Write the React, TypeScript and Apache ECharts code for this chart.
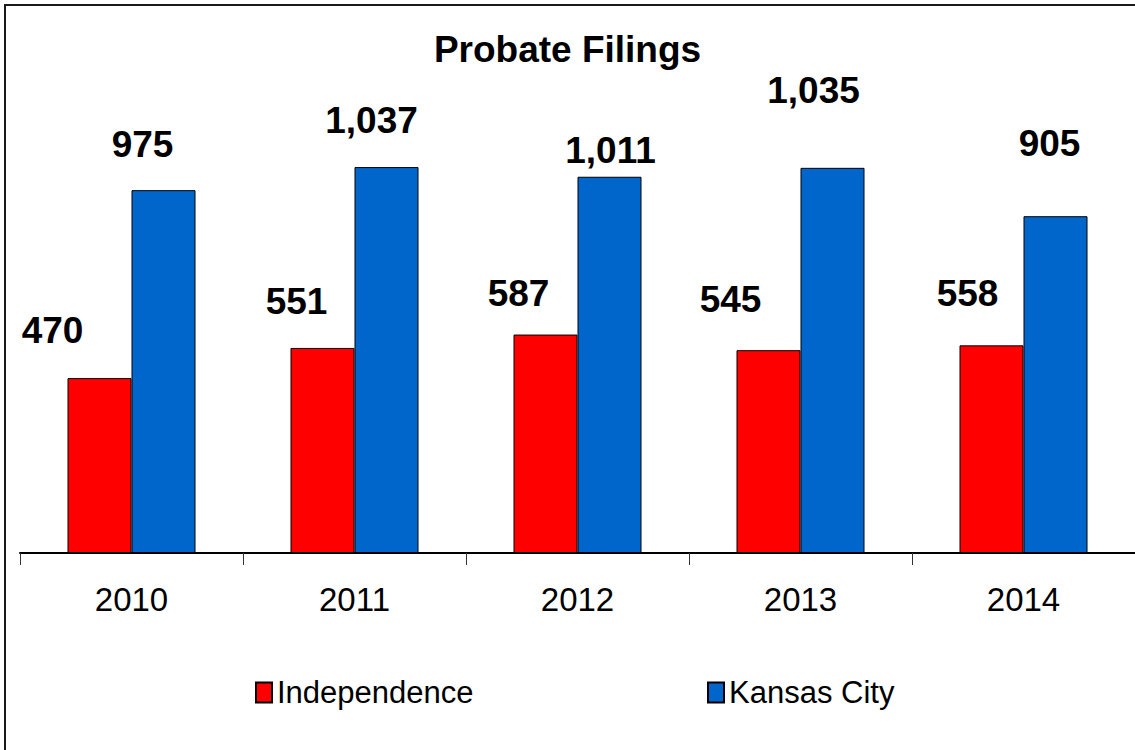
import React, { useEffect, useRef } from "react";
import * as echarts from "echarts";

const categories = ["2010", "2011", "2012", "2013", "2014"];
const independence = [470, 551, 587, 545, 558];
const kansasCity = [975, 1037, 1011, 1035, 905];
const seriesNames = ["Independence", "Kansas City"];

// label offsets [dx, dy] relative to default "top" position
const independenceLabelOffsets = [[-47, -24], [-26, -23], [-27, -18], [-38, -27], [-24, -28]];
const kansasLabelOffsets = [[-21, -22], [-15, -23], [1, -3], [-19, -54], [-6, -49]];

const FONT = "'Liberation Sans', Arial, sans-serif";

export default function App() {
  const ref = useRef<HTMLDivElement>(null);
  useEffect(() => {
    if (!ref.current) return;
    const chart = echarts.init(ref.current, undefined, { renderer: "svg" });
    const fmt = (p: any) => Number(p.value).toLocaleString("en-US");
    const mkData = (vals: number[], offs: number[][]) =>
      vals.map((v, i) => ({ value: v, label: { offset: offs[i] } }));
    const labelStyle = {
      show: true,
      position: "top",
      distance: 5,
      formatter: fmt,
      fontFamily: FONT,
      fontWeight: "bold",
      fontSize: 37,
      lineHeight: 37,
      color: "#000",
    };
    const legendBase = {
      top: 677,
      padding: 0,
      icon: "rect",
      itemWidth: 16,
      itemHeight: 20,
      itemGap: 0,
      itemTextGap: 8,
      textStyle: { fontFamily: FONT, fontSize: 31, lineHeight: 22, color: "#000" },
    };
    chart.setOption({
      animation: false,
      backgroundColor: "#fff",
      title: {
        text: "Probate Filings",
        left: "center",
        top: 31,
        padding: 0,
        textStyle: { fontFamily: FONT, fontWeight: "bold", fontSize: 37, lineHeight: 37, color: "#000" },
      },
      legend: [
        { ...legendBase, data: [seriesNames[0]], left: 255 },
        { ...legendBase, data: [seriesNames[1]], left: 707 },
      ],
      grid: { left: 20, right: 0, top: 32, bottom: 197, containLabel: false },
      xAxis: {
        type: "category",
        data: categories,
        boundaryGap: true,
        axisLine: { show: true, lineStyle: { color: "#000", width: 2 } },
        axisTick: { show: true, length: 12, alignWithLabel: false, lineStyle: { color: "#333", width: 1 } },
        axisLabel: { fontFamily: FONT, fontSize: 33, lineHeight: 33, color: "#000", margin: 30 },
      },
      yAxis: {
        type: "value",
        min: 0,
        max: 1400,
        show: false,
        splitLine: { show: false },
      },
      series: [
        {
          name: seriesNames[0],
          type: "bar",
          data: mkData(independence, independenceLabelOffsets),
          barWidth: 64,
          barGap: "0%",
          itemStyle: { color: "#FF0000", borderColor: "#000", borderWidth: 1 },
          label: labelStyle,
        },
        {
          name: seriesNames[1],
          type: "bar",
          data: mkData(kansasCity, kansasLabelOffsets),
          barWidth: 64,
          barGap: "0%",
          itemStyle: { color: "#0066CC", borderColor: "#000", borderWidth: 1 },
          label: labelStyle,
        },
      ],
    });
    return () => chart.dispose();
  }, []);
  return (
    <>
      <div
        ref={ref}
        style={{ position: "absolute", left: 0, top: 0, width: 1135, height: 750, background: "#fff" }}
      />
      <div
        style={{
          position: "absolute",
          left: 4,
          top: 4,
          right: 0,
          bottom: 0,
          borderTop: "2px solid #1a1a1a",
          borderLeft: "2px solid #1a1a1a",
          pointerEvents: "none",
        }}
      />
    </>
  );
}
